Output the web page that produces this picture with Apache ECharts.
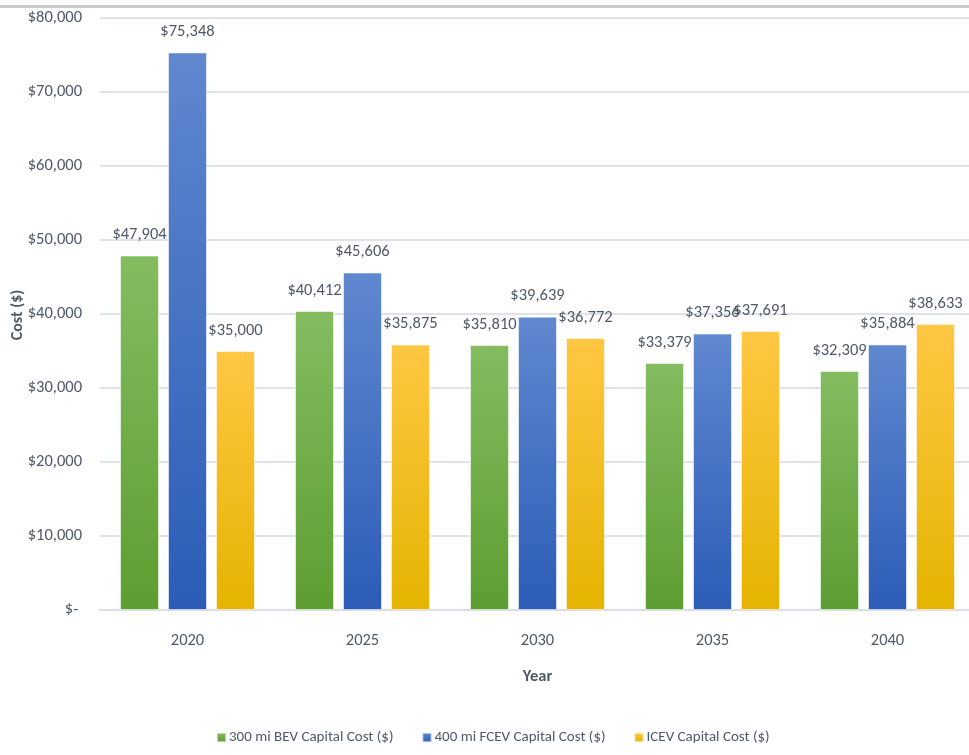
<!DOCTYPE html>
<html>
<head>
<meta charset="utf-8">
<script src="https://cdn.jsdelivr.net/npm/echarts@6/dist/echarts.min.js"></script>
<style>
  html, body { margin: 0; padding: 0; background: #fff; }
  #chart { width: 969px; height: 755px; }
</style>
</head>
<body>
<div id="chart"></div>
<script>
// Capital cost by model year for three vehicle types
const years = ['2020', '2025', '2030', '2035', '2040'];
const bevCost = [47904, 40412, 35810, 33379, 32309];
const fcevCost = [75348, 45606, 39639, 37356, 35884];
const icevCost = [35000, 35875, 36772, 37691, 38633];
const seriesNames = ['300 mi BEV Capital Cost ($)', '400 mi FCEV Capital Cost ($)', 'ICEV Capital Cost ($)'];
const yTitle = 'Cost ($)';
const xTitle = 'Year';

const FONT = 'Carlito, Calibri, "Liberation Sans", sans-serif';
const TEXT = '#4f5968';
const FS = 16.5;

function money(v) {
  if (v === 0) return '$- ';
  return '$' + v.toLocaleString('en-US');
}

function grad(top, bottom) {
  return new echarts.graphic.LinearGradient(0, 0, 0, 1, [
    { offset: 0, color: top },
    { offset: 1, color: bottom }
  ]);
}

function barSeries(name, data, top, bottom, legendColor) {
  return {
    name: name,
    type: 'bar',
    data: data,
    barWidth: 39,
    barGap: '23%',
    color: legendColor,
    itemStyle: {
      color: grad(top, bottom),
      borderColor: 'rgba(255,255,255,0.55)',
      borderWidth: 1
    },
    label: {
      show: true,
      position: 'top',
      distance: 12,
      formatter: p => money(p.value),
      fontFamily: FONT,
      fontSize: FS,
      color: TEXT
    },
    emphasis: { disabled: true }
  };
}

const chart = echarts.init(document.getElementById('chart'), null, { renderer: 'canvas' });
chart.setOption({
  animation: false,
  backgroundColor: '#ffffff',
  textStyle: { fontFamily: FONT },
  grid: { left: 100, top: 18, width: 875, bottom: 145, containLabel: false, outerBoundsMode: 'none' },
  legend: {
    bottom: 5,
    left: 211,
    itemWidth: 9,
    itemHeight: 9,
    itemGap: 28,
    icon: 'rect',
    textStyle: { fontFamily: FONT, fontSize: 15, color: TEXT, padding: [0, 0, 0, -2] },
    data: seriesNames
  },
  xAxis: {
    type: 'category',
    data: years,
    name: xTitle,
    nameLocation: 'middle',
    nameGap: 58,
    nameTextStyle: { fontFamily: FONT, fontSize: FS, fontWeight: 'bold', color: TEXT },
    axisLine: { lineStyle: { color: '#dadde5', width: 2 } },
    axisTick: { show: false },
    axisLabel: { fontFamily: FONT, fontSize: FS, color: TEXT, margin: 22 }
  },
  yAxis: {
    type: 'value',
    min: 0,
    max: 80000,
    interval: 10000,
    axisLine: { show: false },
    axisTick: { show: false },
    axisLabel: { fontFamily: FONT, fontSize: FS, color: TEXT, margin: 18, formatter: money },
    splitLine: { lineStyle: { color: '#dfe2ea', width: 2 } }
  },
  graphic: [
    {
      // thin frame rule along the top edge
      type: 'rect',
      shape: { x: 0, y: 5, width: 969, height: 3 },
      style: { fill: '#c9c9c9' },
      silent: true
    },
    {
      // vertical value-axis title
      type: 'text',
      x: 18,
      y: 315,
      rotation: Math.PI / 2,
      style: {
        text: yTitle,
        fill: TEXT,
        font: 'bold 16px ' + FONT,
        align: 'center',
        verticalAlign: 'middle'
      },
      silent: true
    }
  ],
  series: [
    barSeries(seriesNames[0], bevCost, '#84bc60', '#5c9e31', '#6aa83e'),
    barSeries(seriesNames[1], fcevCost, '#6088cf', '#2c5cb7', '#3a68c0'),
    barSeries(seriesNames[2], icevCost, '#ffc743', '#e5b300', '#f5bd10')
  ]
});
</script>
</body>
</html>
